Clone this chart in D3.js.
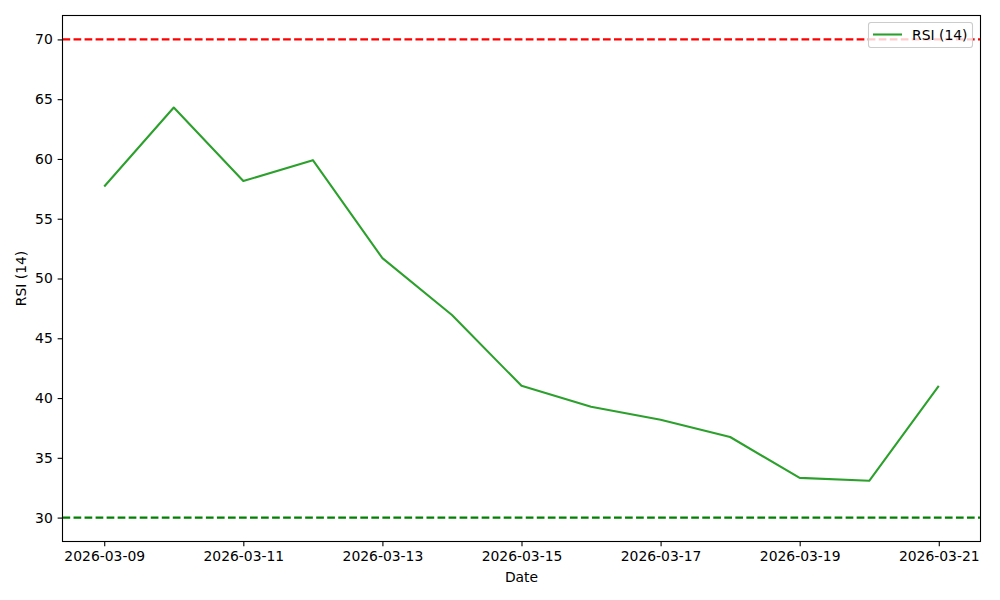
<!DOCTYPE html>
<html><head><meta charset="utf-8">
<script src="https://cdn.jsdelivr.net/npm/d3@7"></script>
<style>body{margin:0;background:#fff}svg{display:block}text{font-family:"DejaVu Sans",sans-serif}</style>
</head><body><svg id="c" width="1000" height="600"></svg>
<script>
const dates = ["2026-03-09","2026-03-10","2026-03-11","2026-03-12","2026-03-13","2026-03-14","2026-03-15","2026-03-16","2026-03-17","2026-03-18","2026-03-19","2026-03-20","2026-03-21"];
const rsi = [57.7,64.3,58.15,59.9,51.7,46.95,41.02,39.27,38.18,36.74,33.32,33.08,41.02];
const tickDates = ["2026-03-09","2026-03-11","2026-03-13","2026-03-15","2026-03-17","2026-03-19","2026-03-21"];
const yTicks = [30,35,40,45,50,55,60,65,70];
const overbought = 70, oversold = 30;
const seriesName = "RSI (14)";

const parse = d3.utcParse("%Y-%m-%d");
const L=62.5, R=980.5, T=15.5, B=541.5;
const FS = "13.9px";
const svg = d3.select("#c");
const t0 = parse(dates[0]), t1 = parse(dates[dates.length-1]);
const span = t1 - t0;
const x = d3.scaleUtc().domain([new Date(+t0 - span*0.05), new Date(+t1 + span*0.05)]).range([L,R]);
const y = d3.scaleLinear().domain([28,72]).range([B,T]);

const g = svg.append("g");
g.append("line").attr("x1",L).attr("x2",R).attr("y1",y(overbought)).attr("y2",y(overbought))
 .attr("stroke","#ff0000").attr("stroke-width",2.08).attr("stroke-dasharray","7.7,3.33");
g.append("line").attr("x1",L).attr("x2",R).attr("y1",y(oversold)).attr("y2",y(oversold))
 .attr("stroke","#008000").attr("stroke-width",2.08).attr("stroke-dasharray","7.7,3.33");

const line = d3.line().x((d,i)=>x(parse(dates[i]))).y(d=>y(d));
g.append("path").datum(rsi).attr("d",line).attr("fill","none").attr("stroke","#2ca02c").attr("stroke-width",2.08).attr("stroke-linejoin","round");

const xa = svg.append("g").attr("transform",`translate(0,${B})`)
 .call(d3.axisBottom(x).tickValues(tickDates.map(parse)).tickFormat(d3.utcFormat("%Y-%m-%d")).tickSizeOuter(0).tickSize(4.86).tickPadding(4.86));
const ya = svg.append("g").attr("transform",`translate(${L},0)`)
 .call(d3.axisLeft(y).tickValues(yTicks).tickSizeOuter(0).tickSize(4.86).tickPadding(4.86));
[xa,ya].forEach(a=>{a.select(".domain").remove();a.selectAll("text").attr("font-size",FS).attr("fill","#000").style("font-family","DejaVu Sans");a.selectAll("line").attr("stroke","#000").attr("stroke-width",1.1);});

svg.append("rect").attr("x",L).attr("y",T).attr("width",R-L).attr("height",B-T).attr("fill","none").attr("stroke","#000").attr("stroke-width",1.1);

svg.append("text").attr("x",(L+R)/2).attr("y",582).attr("text-anchor","middle").attr("font-size",FS).text("Date");
svg.append("text").attr("transform",`translate(26,${(T+B)/2}) rotate(-90)`).attr("text-anchor","middle").attr("font-size",FS).text("RSI (14)");

const lg = svg.append("g");
lg.append("rect").attr("x",868.5).attr("y",22.5).attr("width",104).attr("height",25).attr("rx",2.5)
 .attr("fill","#fff").attr("fill-opacity",0.8).attr("stroke","#cccccc").attr("stroke-width",1.1);
lg.append("line").attr("x1",873).attr("x2",902).attr("y1",34.5).attr("y2",34.5).attr("stroke","#2ca02c").attr("stroke-width",2.08);
lg.append("text").attr("x",912).attr("y",39.5).attr("font-size",FS).text(seriesName);
</script></body></html>
